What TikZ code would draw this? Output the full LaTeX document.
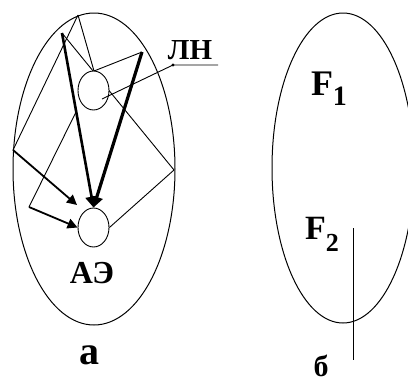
\documentclass[tikz,border=0pt]{standalone}
\usepackage{fontspec}
\setmainfont{Liberation Serif}
\usetikzlibrary{arrows.meta,shapes.geometric,backgrounds}
\tikzset{
  thin line/.style={line width=0.9pt},
  thick arrow/.style={line width=2.6pt,-{Triangle[length=11pt,width=12pt]}},
  mid arrow/.style={line width=1.8pt,-{Triangle[length=10pt,width=10pt]}},
  cell/.style={ellipse,draw,line width=0.9pt,fill=white,minimum width=31pt,minimum height=39pt,inner sep=0pt},
  oval/.style={ellipse,draw,line width=1pt,inner sep=0pt},
  lbl/.style={inner sep=0pt,font=\bfseries},
}
\begin{document}
\begin{tikzpicture}[x=1pt,y=-1pt]
\useasboundingbox (0,0) rectangle (408,383);
% left oval
\node[oval,minimum width=162pt,minimum height=312pt] (ovA) at (94,169) {};
% cells
\node[cell] (up) at (93.5,90.5) {};
\node[cell] (lo) at (93.5,227.5) {};
% points
\coordinate (A) at (78,15);
\coordinate (B) at (62,33);
\coordinate (C) at (142,52);
\coordinate (D) at (13,150);
\coordinate (E) at (174,170);
\coordinate (G) at (29,207);
\coordinate (H) at (76,112);
\coordinate (P) at (94,71);
\coordinate (L) at (173,65);
\coordinate (L2) at (218,65);
\coordinate (Lend) at (102,99);
\begin{pgfonlayer}{background}
\draw[thin line] (B) -- (E);
\draw[thin line] (A) -- (P) -- (C);
\draw[thin line] (A) -- (D);
\draw[thin line] (G) -- (H);
\draw[thin line] (E) -- (lo.east);
\end{pgfonlayer}
\draw[thick arrow] (B) -- (lo.north);
\draw[thick arrow,line width=3.2pt] (C) -- (lo.north);
\draw[mid arrow] (D) -- (77,205);
\draw[mid arrow] (G) -- (lo.west);
% leader
\draw[thin line] (Lend) -- (L) -- (L2);
\fill (L) circle (1.6pt);
\node[lbl,font=\bfseries\fontsize{29}{29}\selectfont] (ln) at (190,50) {ЛН};
\node[lbl,font=\bfseries\fontsize{32}{32}\selectfont] (ae) at (92,273) {АЭ};
\node[lbl,font=\bfseries\fontsize{40}{40}\selectfont] (la) at (89,355) {а};
% right oval
\begin{scope}
\clip (0,0) rectangle (408,383);
\node[oval,minimum width=142pt,minimum height=310pt] (ovB) at (343,168) {};
\end{scope}
\coordinate (V1) at (353,228);
\coordinate (V2) at (353,360);
\draw[thin line] (V1) -- (V2);
\node[lbl,font=\bfseries\fontsize{36}{36}\selectfont] (f1) at (329,89) {F\raisebox{-10pt}{\fontsize{28}{28}\selectfont 1}};
\node[lbl,font=\bfseries\fontsize{34}{34}\selectfont] (f2) at (322,234) {F\raisebox{-12pt}{\fontsize{26}{26}\selectfont 2}};
\node[lbl,font=\bfseries\fontsize{30}{30}\selectfont] (lb) at (321,366) {б};
\end{tikzpicture}
\end{document}
